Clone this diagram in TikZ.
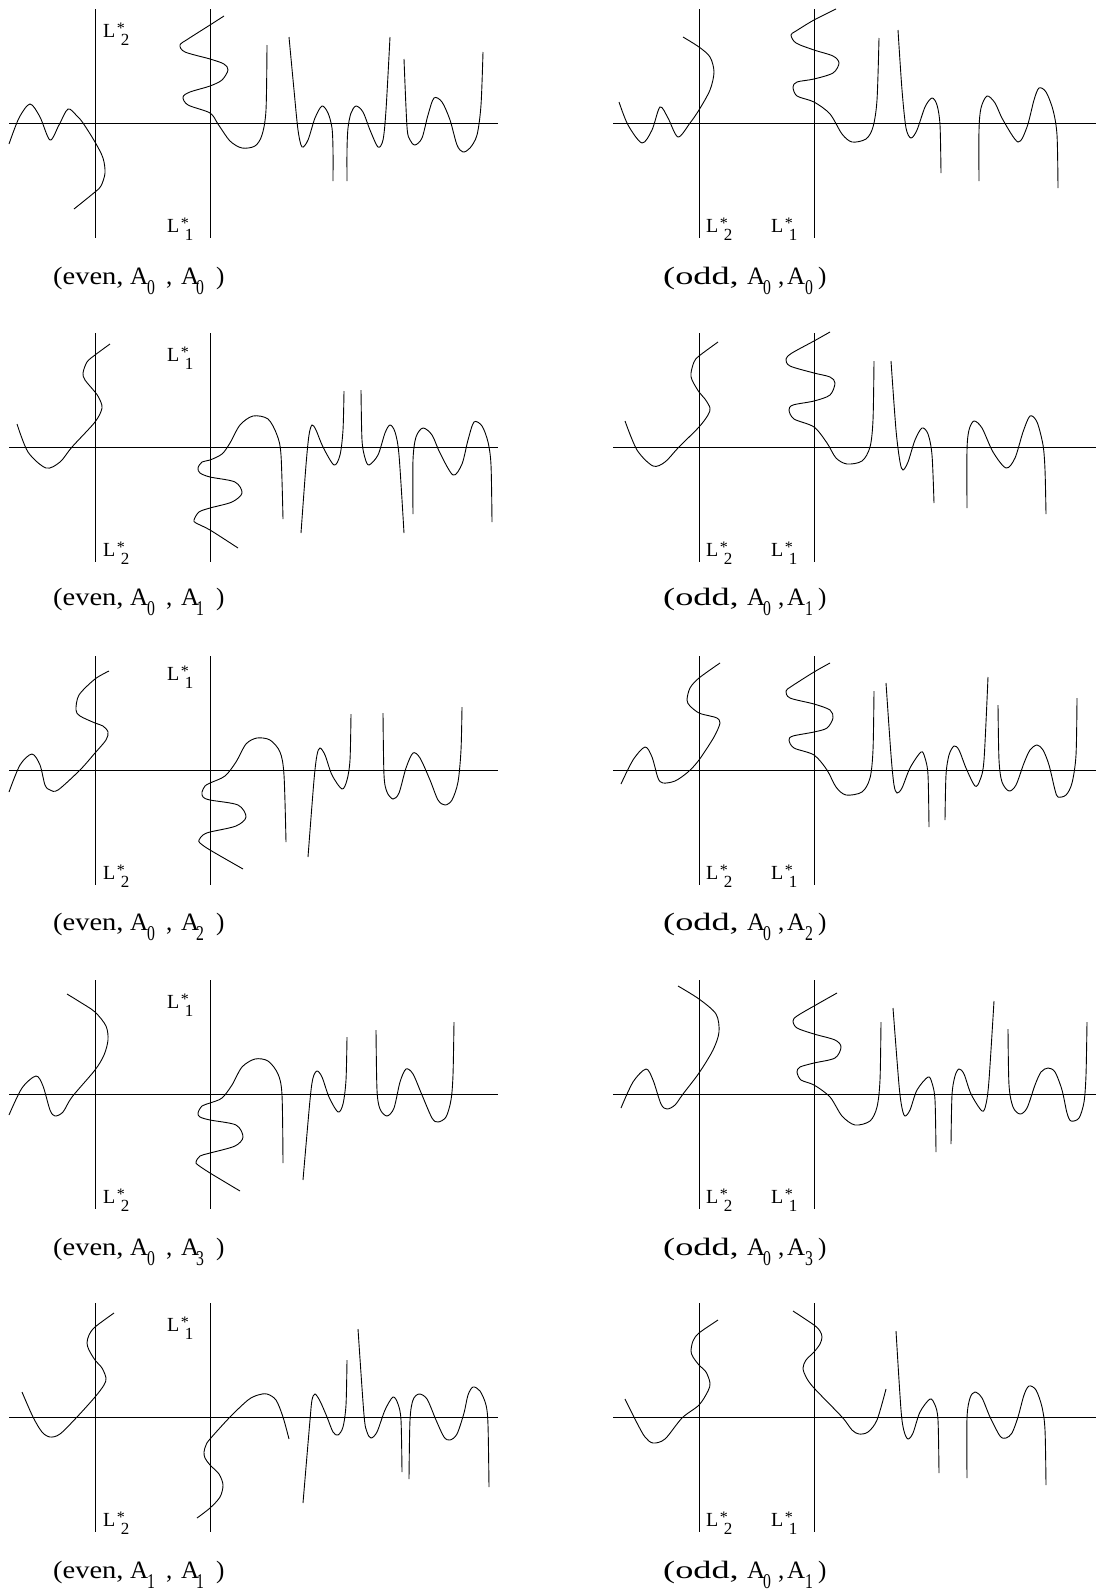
\documentclass[tikz,border=0pt]{standalone}
\usepackage{graphicx}
\usepackage{fontspec}
\setmainfont{Liberation Serif}
\newcommand{\subd}[1]{\raisebox{-10.5pt}{\scalebox{0.75}[1]{\fontsize{21}{21}\selectfont #1}}}
\newcommand{\Lst}[1]{L\hspace{1.5pt}\rlap{\raisebox{4pt}{\fontsize{16}{16}\selectfont *}}\hspace{4pt}\raisebox{-8pt}{\fontsize{17}{17}\selectfont #1}}
\newcommand{\evenlab}[2]{\makebox[77pt][l]{\scalebox{1.14}[1]{(even,}}\makebox[17pt][l]{A}\makebox[19pt][l]{\subd{#1}}\makebox[15pt][l]{,}\makebox[15pt][l]{A}\makebox[20pt][l]{\subd{#2}})}
\newcommand{\oddlab}[2]{\makebox[84pt][l]{\scalebox{1.45}[1]{(odd,}}\makebox[16pt][l]{A}\makebox[15pt][l]{\subd{#1}}\makebox[9pt][l]{,}\makebox[18pt][l]{A}\makebox[13pt][l]{\subd{#2}})}
\begin{document}
\begin{tikzpicture}[x=1pt,y=-1pt,
  crv/.style={line width=0.9pt},
  axl/.style={line width=1pt},
  lab/.style={inner sep=0pt, anchor=base west, font=\fontsize{25}{28}\selectfont},
  llab/.style={inner sep=0pt, anchor=base west, font=\fontsize{20}{22}\selectfont}]
\useasboundingbox (0,0) rectangle (1096,1593);
% axes
\foreach \Y in {123,447,770,1094,1417}{
  \draw[axl] (9,\Y) -- (498,\Y);
  \draw[axl] (95,{\Y-114}) -- (95,{\Y+115});
  \draw[axl] (210,{\Y-114}) -- (210,{\Y+115});
  \draw[axl] (613,\Y) -- (1096,\Y);
  \draw[axl] (699,{\Y-114}) -- (699,{\Y+115});
  \draw[axl] (814,{\Y-114}) -- (814,{\Y+115});
}
% ---------- Panel 1 (even, A0, A0)
\draw[crv] plot[smooth,tension=0.5] coordinates {(9,144) (19,118) (30,104) (40,117) (50,140) (59,125) (68,109) (77,116) (83,123) (95,142) (103,158) (105,173) (101,186) (95,192) (74,209)};
\draw[crv] plot[smooth,tension=0.5] coordinates {(224,16) (210,25) (188,39) (180,45) (185,52) (210,59) (224,64) (228,70) (222,80) (210,86) (190,92) (183,97) (188,105) (210,113) (218,124) (230,141) (242,148) (255,146) (262,135) (266,110) (267,45)};
\draw[crv] plot[smooth,tension=0.5] coordinates {(289,37) (294,90) (298,130) (302,147) (308,140) (315,118) (322,106) (328,113) (332,128) (333,150) (333,181)};
\draw[crv] plot[smooth,tension=0.5] coordinates {(347,181) (347,150) (348,128) (351,113) (356,106) (363,112) (370,130) (378,147) (383,140) (386,110) (390,37)};
\draw[crv] plot[smooth,tension=0.5] coordinates {(404,59) (407,127) (410,140) (415,145) (422,138) (428,115) (434,98) (442,102) (450,120) (457,145) (463,152) (470,148) (477,135) (481,105) (483,52)};
% ---------- Panel 2 (odd, A0, A0)
\draw[crv] plot[smooth,tension=0.5] coordinates {(619,102) (628,125) (642,143) (652,130) (660,107) (668,118) (678,137) (690,123) (699,110) (710,90) (714,72) (710,57) (699,47) (683,37)};
\draw[crv] plot[smooth,tension=0.5] coordinates {(836,9) (814,20) (796,31) (791,35) (796,43) (814,50) (833,56) (839,63) (833,73) (814,79) (797,82) (793,87) (797,96) (814,102) (830,114) (842,134) (852,142) (866,139) (873,127) (877,100) (879,38)};
\draw[crv] plot[smooth,tension=0.5] coordinates {(898,30) (902,90) (906,128) (911,138) (917,130) (925,107) (932,98) (937,105) (940,125) (941,173)};
\draw[crv] plot[smooth,tension=0.5] coordinates {(979,181) (979,130) (981,108) (987,96) (995,103) (1003,120) (1018,142) (1027,127) (1034,100) (1039,88) (1046,92) (1053,110) (1057,135) (1058,188)};
% ---------- Panel 3 (even, A0, A1)
\draw[crv] plot[smooth,tension=0.5] coordinates {(17,424) (28,452) (46,468) (60,462) (72,447) (95,422) (102,408) (99,398) (95,392) (85,380) (83,373) (87,362) (95,355) (110,344)};
\draw[crv] plot[smooth,tension=0.5] coordinates {(238,548) (210,530) (196,523) (194,520) (199,512) (210,508) (232,502) (242,493) (235,482) (210,477) (200,473) (198,468) (202,462) (210,460) (222,454) (230,443) (240,425) (253,416) (268,419) (277,435) (281,455) (283,519)};
\draw[crv] plot[smooth,tension=0.5] coordinates {(301,533) (306,465) (309,435) (312,425) (316,430) (323,447) (334,465) (340,455) (343,430) (344,391)};
\draw[crv] plot[smooth,tension=0.5] coordinates {(361,390) (362,440) (365,458) (369,465) (378,455) (385,433) (390,425) (395,432) (399,455) (404,533)};
\draw[crv] plot[smooth,tension=0.5] coordinates {(413,514) (413,460) (416,437) (423,428) (432,435) (440,453) (453,475) (462,464) (468,440) (474,422) (482,426) (488,442) (491,465) (492,522)};
% ---------- Panel 4 (odd, A0, A1)
\draw[crv] plot[smooth,tension=0.5] coordinates {(625,421) (637,450) (653,466) (665,462) (678,448) (699,427) (708,415) (710,408) (705,399) (699,392) (692,380) (691,373) (694,362) (699,356) (718,342)};
\draw[crv] plot[smooth,tension=0.5] coordinates {(830,332) (814,341) (792,353) (786,359) (790,366) (814,373) (830,377) (835,383) (830,395) (814,401) (793,405) (789,410) (794,419) (814,427) (827,443) (836,458) (847,464) (862,461) (870,447) (873,420) (874,361)};
\draw[crv] plot[smooth,tension=0.5] coordinates {(891,361) (896,430) (900,462) (903,470) (908,462) (915,440) (922,428) (928,434) (932,455) (934,503)};
\draw[crv] plot[smooth,tension=0.5] coordinates {(967,508) (967,450) (969,430) (974,421) (982,428) (993,452) (1006,468) (1015,458) (1023,432) (1030,416) (1037,422) (1043,445) (1045,470) (1046,514)};
% ---------- Panel 5 (even, A0, A2)
\draw[crv] plot[smooth,tension=0.5] coordinates {(9,792) (20,765) (32,754) (40,765) (45,785) (50,790) (58,790) (80,770) (95,753) (106,740) (108,732) (103,726) (95,723) (80,716) (76,710) (79,695) (95,679) (109,671)};
\draw[crv] plot[smooth,tension=0.5] coordinates {(243,869) (210,850) (200,843) (199,840) (203,835) (210,832) (236,826) (246,817) (238,805) (210,800) (203,797) (202,792) (205,786) (210,783) (225,776) (236,762) (246,744) (257,738) (270,740) (280,752) (284,775) (286,842)};
\draw[crv] plot[smooth,tension=0.5] coordinates {(308,857) (314,780) (317,755) (320,748) (325,755) (332,775) (342,789) (347,780) (350,760) (351,714)};
\draw[crv] plot[smooth,tension=0.5] coordinates {(383,713) (384,775) (387,792) (393,799) (399,793) (406,768) (413,753) (420,758) (430,780) (438,800) (445,805) (452,800) (458,782) (461,750) (462,707)};
% ---------- Panel 6 (odd, A0, A2)
\draw[crv] plot[smooth,tension=0.5] coordinates {(621,784) (633,760) (645,747) (652,757) (658,778) (663,783) (675,781) (688,772) (699,760) (714,737) (720,723) (717,718) (710,716) (699,713) (690,706) (687,700) (690,688) (699,678) (720,663)};
\draw[crv] plot[smooth,tension=0.5] coordinates {(830,663) (814,672) (792,686) (786,691) (790,698) (814,704) (830,710) (833,718) (827,728) (814,732) (793,736) (789,740) (794,748) (814,755) (827,770) (836,787) (846,795) (862,792) (870,778) (873,750) (874,691)};
\draw[crv] plot[smooth,tension=0.5] coordinates {(886,683) (891,755) (894,785) (897,793) (902,788) (910,768) (921,752) (925,758) (928,775) (929,827)};
\draw[crv] plot[smooth,tension=0.5] coordinates {(945,820) (946,775) (949,755) (954,746) (959,750) (966,768) (975,786) (980,780) (984,760) (988,677)};
\draw[crv] plot[smooth,tension=0.5] coordinates {(998,705) (999,760) (1002,782) (1009,791) (1016,785) (1024,763) (1030,750) (1037,745) (1043,750) (1049,765) (1055,790) (1058,797) (1066,795) (1072,783) (1076,755) (1077,698)};
% ---------- Panel 7 (even, A0, A3)
\draw[crv] plot[smooth,tension=0.5] coordinates {(9,1115) (22,1088) (36,1076) (43,1086) (50,1110) (55,1116) (63,1112) (72,1097) (95,1070) (104,1055) (108,1040) (106,1026) (95,1012) (80,1002) (67,994)};
\draw[crv] plot[smooth,tension=0.5] coordinates {(240,1191) (210,1173) (198,1165) (196,1162) (200,1156) (210,1153) (235,1146) (243,1137) (236,1125) (210,1120) (200,1117) (198,1113) (202,1106) (210,1103) (222,1098) (232,1085) (242,1067) (255,1059) (268,1061) (278,1074) (282,1095) (283,1163)};
\draw[crv] plot[smooth,tension=0.5] coordinates {(303,1180) (310,1100) (313,1078) (317,1071) (322,1077) (329,1097) (338,1112) (343,1104) (346,1080) (347,1037)};
\draw[crv] plot[smooth,tension=0.5] coordinates {(376,1030) (377,1090) (380,1109) (387,1116) (394,1108) (400,1082) (406,1069) (413,1074) (422,1095) (432,1118) (438,1122) (446,1117) (451,1100) (453,1075) (454,1022)};
% ---------- Panel 8 (odd, A0, A3)
\draw[crv] plot[smooth,tension=0.5] coordinates {(621,1108) (633,1082) (646,1069) (653,1080) (661,1104) (667,1109) (675,1105) (683,1094) (699,1073) (713,1050) (719,1032) (716,1014) (699,999) (678,986)};
\draw[crv] plot[smooth,tension=0.5] coordinates {(837,993) (814,1006) (797,1016) (793,1021) (797,1028) (814,1034) (835,1040) (841,1047) (835,1058) (814,1063) (800,1067) (797,1072) (801,1080) (814,1085) (830,1097) (842,1116) (855,1125) (870,1121) (877,1107) (880,1080) (881,1022)};
\draw[crv] plot[smooth,tension=0.5] coordinates {(893,1008) (899,1085) (902,1108) (905,1116) (910,1110) (917,1090) (928,1077) (932,1083) (935,1100) (936,1152)};
\draw[crv] plot[smooth,tension=0.5] coordinates {(951,1144) (952,1095) (955,1076) (959,1069) (964,1074) (971,1094) (982,1111) (986,1104) (989,1080) (994,1001)};
\draw[crv] plot[smooth,tension=0.5] coordinates {(1008,1029) (1009,1085) (1013,1107) (1020,1114) (1027,1108) (1035,1085) (1041,1072) (1048,1068) (1055,1072) (1062,1090) (1067,1113) (1071,1121) (1079,1118) (1084,1102) (1086,1075) (1087,1022)};
% ---------- Panel 9 (even, A1, A1)
\draw[crv] plot[smooth,tension=0.5] coordinates {(22,1392) (33,1417) (42,1432) (50,1437) (60,1434) (77,1417) (95,1397) (104,1385) (106,1378) (102,1368) (95,1360) (89,1350) (87,1343) (89,1335) (95,1327) (114,1313)};
\draw[crv] plot[smooth,tension=0.5] coordinates {(197,1518) (210,1508) (220,1497) (223,1485) (219,1474) (210,1465) (205,1458) (204,1452) (206,1445) (210,1439) (230,1417) (248,1400) (258,1395) (267,1394) (276,1400) (283,1417) (289,1439)};
\draw[crv] plot[smooth,tension=0.5] coordinates {(303,1503) (310,1420) (312,1400) (315,1394) (320,1401) (327,1417) (333,1432) (338,1435) (343,1427) (346,1405) (347,1360)};
\draw[crv] plot[smooth,tension=0.5] coordinates {(358,1329) (364,1415) (367,1432) (371,1438) (377,1432) (385,1410) (393,1397) (398,1404) (401,1420) (402,1472)};
\draw[crv] plot[smooth,tension=0.5] coordinates {(409,1479) (410,1420) (413,1400) (419,1394) (427,1399) (436,1420) (444,1437) (450,1440) (457,1434) (464,1413) (468,1395) (473,1387) (480,1391) (486,1405) (488,1425) (489,1487)};
% ---------- Panel 10 (odd, A0, A1)
\draw[crv] plot[smooth,tension=0.5] coordinates {(625,1399) (637,1423) (645,1437) (653,1443) (665,1439) (682,1418) (699,1405) (708,1391) (710,1383) (706,1372) (699,1365) (693,1357) (691,1351) (693,1341) (699,1333) (718,1320)};
\draw[crv] plot[smooth,tension=0.5] coordinates {(793,1311) (814,1325) (820,1331) (822,1337) (820,1344) (814,1352) (806,1360) (803,1368) (806,1377) (814,1388) (842,1417) (852,1430) (859,1434) (868,1432) (877,1420) (886,1389)};
\draw[crv] plot[smooth,tension=0.5] coordinates {(896,1331) (901,1410) (904,1431) (908,1439) (913,1433) (920,1412) (930,1399) (935,1405) (938,1420) (939,1473)};
\draw[crv] plot[smooth,tension=0.5] coordinates {(967,1478) (967,1418) (970,1398) (975,1392) (982,1398) (990,1417) (1000,1436) (1006,1438) (1012,1433) (1018,1417) (1024,1395) (1029,1386) (1036,1390) (1042,1407) (1045,1430) (1046,1485)};
% ---------- L labels
\node[llab] (l1a) at (103,37) {\Lst{2}};
\node[llab] (l1b) at (167,232) {\Lst{1}};
\node[llab] (r1a) at (706,232) {\Lst{2}};
\node[llab] (r1b) at (771,232) {\Lst{1}};
\node[llab] (l2a) at (167,361) {\Lst{1}};
\node[llab] (l2b) at (103,556) {\Lst{2}};
\node[llab] (r2a) at (706,556) {\Lst{2}};
\node[llab] (r2b) at (771,556) {\Lst{1}};
\node[llab] (l3a) at (167,680) {\Lst{1}};
\node[llab] (l3b) at (103,879) {\Lst{2}};
\node[llab] (r3a) at (706,879) {\Lst{2}};
\node[llab] (r3b) at (771,879) {\Lst{1}};
\node[llab] (l4a) at (167,1008) {\Lst{1}};
\node[llab] (l4b) at (103,1203) {\Lst{2}};
\node[llab] (r4a) at (706,1203) {\Lst{2}};
\node[llab] (r4b) at (771,1203) {\Lst{1}};
\node[llab] (l5a) at (167,1331) {\Lst{1}};
\node[llab] (l5b) at (103,1526) {\Lst{2}};
\node[llab] (r5a) at (706,1526) {\Lst{2}};
\node[llab] (r5b) at (771,1526) {\Lst{1}};
% ---------- captions
\node[lab] (c1) at (53,284) {\evenlab{0}{0}};
\node[lab] (d1) at (663,284) {\oddlab{0}{0}};
\node[lab] (c2) at (53,605) {\evenlab{0}{1}};
\node[lab] (d2) at (663,605) {\oddlab{0}{1}};
\node[lab] (c3) at (53,930) {\evenlab{0}{2}};
\node[lab] (d3) at (663,930) {\oddlab{0}{2}};
\node[lab] (c4) at (53,1255) {\evenlab{0}{3}};
\node[lab] (d4) at (663,1255) {\oddlab{0}{3}};
\node[lab] (c5) at (53,1578) {\evenlab{1}{1}};
\node[lab] (d5) at (663,1578) {\oddlab{0}{1}};
\end{tikzpicture}
\end{document}
